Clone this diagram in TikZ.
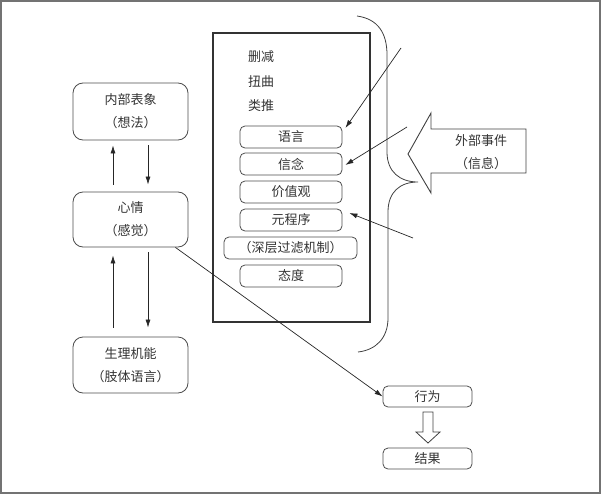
\documentclass[tikz,border=0pt]{standalone}
\usepackage{fontspec}
\newfontfamily\cjk{Noto Sans CJK SC}
\usetikzlibrary{arrows.meta}
\begin{document}
\begin{tikzpicture}[x=1pt,y=-1pt]
\tikzset{
  lbl/.style={font=\cjk\fontsize{13}{23}\selectfont, text=black!80, inner sep=0pt, align=center},
  bigbox/.style={lbl, draw=black!70, rounded corners=10pt, line width=0.8pt, minimum width=115pt},
  smallbox/.style={lbl, draw=black!70, rounded corners=5pt, line width=0.8pt, minimum width=102pt, minimum height=22pt},
  arr/.style={-{Latex[length=8pt,width=5pt]}, draw=black!85, line width=0.7pt},
  plain/.style={draw=black!75, line width=0.8pt}
}
\useasboundingbox (0,0) rectangle (602,495);
\draw[black!55, line width=1.5pt] (1,1) rectangle (600,493);

% left column
\node[bigbox, minimum height=57pt] (inner) at (130.5,111.5) {内部表象\\（想法）};
\node[bigbox, minimum height=55pt] (mood) at (130.5,219.5) {心情\\（感觉）};
\node[bigbox, minimum height=56pt] (body) at (130.5,365) {生理机能\\（肢体语言）};

\draw[arr, shorten <=7pt, shorten >=5pt] ([xshift=-17.5pt]mood.north) -- ([xshift=-17.5pt]inner.south);
\draw[arr, shorten <=5pt, shorten >=7pt] ([xshift=17.5pt]inner.south) -- ([xshift=17.5pt]mood.north);
\draw[arr, shorten <=9pt, shorten >=8pt] ([xshift=-17.5pt]body.north) -- ([xshift=-17.5pt]mood.south);
\draw[arr, shorten <=5pt, shorten >=9pt] ([xshift=17.5pt]mood.south) -- ([xshift=17.5pt]body.north);

% filter box
\node[draw=black!80, line width=1.4pt, minimum width=157pt, minimum height=289pt, inner sep=0pt] (filter) at (291.5,177.5) {};
\node[lbl] (del) at (261,57) {删减};
\node[lbl] (dist) at (261,82) {扭曲};
\node[lbl] (gen) at (261,106) {类推};
\node[smallbox] (lang) at (291,137) {语言};
\node[smallbox] (belief) at (291,164) {信念};
\node[smallbox] (value) at (291,192) {价值观};
\node[smallbox] (meta) at (291,220) {元程序};
\node[smallbox, minimum width=133pt] (deep) at (290.5,248) {（深层过滤机制）};
\node[smallbox] (att) at (291,276) {态度};

% brace
\draw[plain] (357,16) .. controls (378,19) and (387,33) .. (387,55) -- (387,152)
  .. controls (387,172) and (400,182) .. (418,182)
  .. controls (400,182) and (388,192) .. (388,212) -- (388,318)
  .. controls (388,338) and (376,350) .. (358,352);

% incoming arrows
\coordinate (s1) at (401,48);
\coordinate (s2) at (407,127);
\coordinate (s3) at (413,238);
\draw[arr] (s1) -- ([shift={(3,-9)}]lang.east);
\draw[arr] (s2) -- ([shift={(3,1)}]belief.east);
\draw[arr] (s3) -- ([shift={(7,-7)}]meta.east);

% external event hollow arrow
\draw[plain, line width=0.9pt] (408,154) -- (431,113) -- (431,129) -- (526,129) -- (526,173) -- (431,173) -- (431,193) -- cycle;
\node[lbl] (ext) at (481,152) {外部事件\\（信息）};

% behaviour and result
\node[smallbox, minimum width=89pt, minimum height=21pt] (act) at (427.5,396.5) {行为};
\node[smallbox, minimum width=89pt, minimum height=21pt] (res) at (427.5,458.5) {结果};
\draw[plain] (423,412) -- (433,412) -- (433,432) -- (440,432) -- (428,443) -- (416,432) -- (423,432) -- cycle;

\draw[arr] ([xshift=-13pt]mood.south east) -- (act.west);
\end{tikzpicture}
\end{document}
